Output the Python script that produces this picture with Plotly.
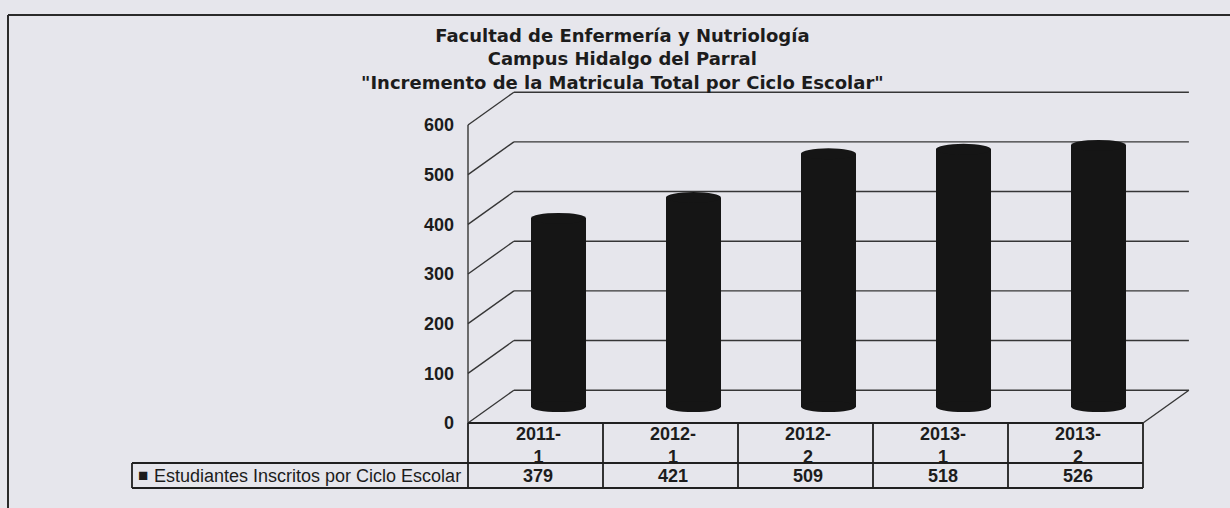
import plotly.graph_objects as go

# ---------------- data ----------------
categories = ["2011-1", "2012-1", "2012-2", "2013-1", "2013-2"]
values = [379, 421, 509, 518, 526]
series_name = "Estudiantes Inscritos por Ciclo Escolar"
y_ticks = [0, 100, 200, 300, 400, 500, 600]
title_lines = [
    "Facultad de Enfermería y Nutriología",
    "Campus Hidalgo del Parral",
    "\"Incremento de la Matricula Total por Ciclo Escolar\"",
]

# ---------------- layout geometry ----------------
W, H = 1230, 508
ML, MR, MT, MB = 120, 30, 80, 8
X_FRONT = 468        # pixel of the front-left wall / first category boundary
PX_PER_CAT = 135
Y_ZERO = 423         # pixel of value 0 on the front plane
PX_PER_UNIT = 0.4967
DX = 0.34            # depth offset (category units)
DY = 66              # depth offset (value units)

FONT = "Liberation Sans, Arial, sans-serif"
TITLE_FONT = "DejaVu Sans, Liberation Sans, sans-serif"
INK = "#1c1c1c"
GRID = "#363636"
CYL = "#151515"
BG = "#e6e6ec"

def px_to_x(px):
    return -0.5 + (px - X_FRONT) / PX_PER_CAT

def py_to_y(py):
    return (Y_ZERO - py) / PX_PER_UNIT

def px_to_paper(px):
    return (px - ML) / (W - ML - MR)

def py_to_paper(py):
    return (H - MB - py) / (H - MT - MB)

n = len(categories)
xr = [px_to_x(ML), px_to_x(W - MR)]
yr = [py_to_y(H - MB), py_to_y(MT)]

fig = go.Figure()

# cylinder bodies
fig.add_trace(go.Bar(
    x=[i + DX / 2 for i in range(n)], y=values, base=DY / 2,
    width=0.408, marker=dict(color=CYL, line=dict(width=0)),
    name=series_name, showlegend=False, hoverinfo="y",
))

shapes = []
def line(x0, y0, x1, y1, color=GRID, width=1.4, layer="below"):
    shapes.append(dict(type="line", xref="x", yref="y", x0=x0, y0=y0, x1=x1, y1=y1,
                       line=dict(color=color, width=width), layer=layer))

# back wall gridlines + left wall diagonals
for v in y_ticks:
    line(-0.5, v, -0.5 + DX, v + DY)
    line(-0.5 + DX, v + DY, n - 0.5 + DX, v + DY)
# front-left wall edge
line(-0.5, 0, -0.5, y_ticks[-1])
# floor right edge
line(n - 0.5, 0, n - 0.5 + DX, DY)

# cylinder caps
half_w = 0.204
ry = 11
for i, v in enumerate(values):
    cx = i + DX / 2
    for yc in (DY / 2, v + DY / 2):
        shapes.append(dict(type="circle", xref="x", yref="y",
                           x0=cx - half_w, x1=cx + half_w, y0=yc - ry, y1=yc + ry,
                           fillcolor=CYL, line=dict(width=0), layer="above"))

# data table
HDR_Y = py_to_y(463)
ROW_Y = py_to_y(488)
LBL_X = px_to_x(132)
TBL = "#202020"
line(-0.5, 0, n - 0.5, 0, color=TBL, width=1.8, layer="above")
line(LBL_X, HDR_Y, n - 0.5, HDR_Y, color=TBL, width=1.8, layer="above")
line(LBL_X, ROW_Y, n - 0.5, ROW_Y, color=TBL, width=1.8, layer="above")
line(LBL_X, HDR_Y, LBL_X, ROW_Y, color=TBL, width=1.8, layer="above")
for k in range(n + 1):
    line(k - 0.5, 0, k - 0.5, ROW_Y, color=TBL, width=1.8, layer="above")

# outer frame of the scanned page
shapes.append(dict(type="line", xref="paper", yref="paper",
                   x0=px_to_paper(8), x1=px_to_paper(1235), y0=py_to_paper(15), y1=py_to_paper(15),
                   line=dict(color="#2a2a2a", width=2)))
shapes.append(dict(type="line", xref="paper", yref="paper",
                   x0=px_to_paper(8), x1=px_to_paper(8), y0=py_to_paper(15), y1=py_to_paper(512),
                   line=dict(color="#2a2a2a", width=2)))

annotations = []
def text(x, y, t, size=18, bold=True, xanchor="center", family=FONT, xref="x", yref="y"):
    annotations.append(dict(x=x, y=y, xref=xref, yref=yref, text=t, showarrow=False,
                            xanchor=xanchor, yanchor="middle", align="center",
                            font=dict(family=family, size=size, color=INK,
                                      weight="bold" if bold else "normal")))

for i, c in enumerate(categories):
    top, bot = c.split("-")
    text(i + 0.02, py_to_y(445), top + "-<br>" + bot, size=18)
    text(i + 0.02, py_to_y(476), str(values[i]))

text(px_to_x(142.5), py_to_y(475), "■", size=17, bold=False)
text(px_to_x(152), py_to_y(476), series_name, size=18, bold=False, xanchor="left")

# chart title (three centred lines)
text(px_to_paper(622), py_to_paper(59), "<br>".join(title_lines), size=18,
     family=TITLE_FONT, xref="paper", yref="paper")

fig.update_layout(
    width=W, height=H,
    margin=dict(l=ML, r=MR, t=MT, b=MB),
    paper_bgcolor=BG, plot_bgcolor=BG,
    showlegend=False,
    xaxis=dict(range=xr, visible=False, fixedrange=True),
    yaxis=dict(range=yr, anchor="free", position=px_to_paper(X_FRONT),
               tickvals=y_ticks, ticktext=[str(v) for v in y_ticks],
               showgrid=False, zeroline=False, showline=False, ticks="",
               ticklabelstandoff=14, fixedrange=True,
               tickfont=dict(family=FONT, size=18, color=INK, weight="bold")),
    shapes=shapes,
    annotations=annotations,
    bargap=0,
)

fig.write_html("out.html", config={"displayModeBar": False},
               post_script="document.body.style.margin='0px';document.body.style.overflow='hidden';")
